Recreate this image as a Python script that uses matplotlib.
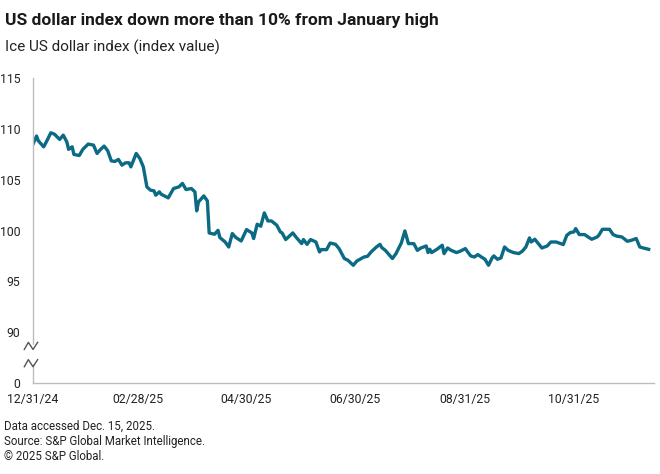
import matplotlib
matplotlib.use("Agg")
import matplotlib.pyplot as plt
import pandas as pd

plt.rcParams['font.family'] = ['Roboto', 'DejaVu Sans']

# days after 12/31/24 and index values
start_date = "2024-12-31"
day_offsets = [0, 2, 3, 6, 8, 10, 12, 15, 17, 19, 20, 22, 23, 26, 28, 31, 34, 36, 38, 40,
               42, 44, 46, 48, 50, 52, 54, 55, 58, 60, 62, 64, 66, 68, 69, 71, 72, 76, 79, 82,
               84, 86, 89, 91, 92, 93, 96, 98, 99, 102, 104, 105, 108, 110, 112, 114, 117, 120, 123, 124,
               126, 128, 130, 132, 134, 137, 139, 140, 142, 146, 148, 151, 152, 154, 156, 159, 161, 162, 165, 167,
               170, 172, 175, 177, 180, 182, 186, 188, 190, 193, 195, 196, 198, 202, 204, 207, 209, 211, 214, 216,
               218, 221, 222, 223, 224, 227, 230, 231, 233, 235, 238, 240, 243, 244, 246, 248, 250, 252, 254, 256,
               258, 259, 261, 263, 265, 267, 270, 273, 275, 277, 279, 280, 282, 284, 286, 289, 291, 294, 298, 300,
               302, 304, 305, 307, 310, 312, 314, 317, 318, 320, 324, 326, 328, 331, 334, 336, 339, 341, 343, 346]
index_values = [108.50, 109.29, 108.82, 108.23, 108.89, 109.61, 109.48, 108.96, 109.38, 108.72,
                107.98, 108.23, 107.48, 107.38, 107.98, 108.50, 108.40, 107.58, 107.98, 108.30,
                107.84, 106.85, 106.79, 106.99, 106.43, 106.66, 106.66, 106.26, 107.58, 107.09,
                106.26, 104.29, 103.97, 103.90, 103.47, 103.80, 103.57, 103.21, 104.13, 104.29,
                104.63, 104.03, 104.13, 103.80, 101.93, 102.81, 103.40, 102.91, 99.76, 99.63,
                100.02, 99.31, 98.87, 98.38, 99.70, 99.31, 98.97, 100.09, 99.76, 99.21,
                100.62, 100.42, 101.73, 100.94, 100.94, 100.52, 99.86, 99.76, 99.11, 99.76,
                99.31, 98.71, 99.11, 98.64, 99.11, 98.87, 97.89, 98.12, 98.12, 98.77,
                98.64, 98.22, 97.24, 97.07, 96.58, 97.00, 97.39, 97.46, 97.89, 98.38,
                98.64, 98.32, 98.05, 97.24, 97.73, 98.77, 99.96, 98.71, 98.71, 98.05,
                98.28, 98.48, 97.83, 98.15, 97.83, 98.15, 98.55, 97.73, 98.28, 98.05,
                97.83, 97.96, 98.22, 97.96, 97.50, 97.39, 97.63, 97.39, 97.17, 96.58,
                97.30, 97.50, 97.17, 97.30, 98.38, 98.05, 97.83, 97.73, 97.96, 98.38,
                99.27, 98.87, 99.14, 98.71, 98.28, 98.48, 98.87, 98.87, 98.62, 99.53,
                99.80, 99.86, 100.19, 99.60, 99.60, 99.36, 99.14, 99.36, 99.53, 100.12,
                100.12, 99.60, 99.45, 99.36, 98.94, 99.02, 99.21, 98.38, 98.28, 98.15]

x_tick_dates = ["2024-12-31", "2025-02-28", "2025-04-30", "2025-06-30", "2025-08-31", "2025-10-31"]
x_tick_labels = ["12/31/24", "02/28/25", "04/30/25", "06/30/25", "08/31/25", "10/31/25"]
y_tick_values = [85, 90, 95, 100, 105, 110, 115]
y_tick_labels = ["0", "90", "95", "100", "105", "110", "115"]

dates = pd.Timestamp(start_date) + pd.to_timedelta(day_offsets, unit="D")

fig = plt.figure(figsize=(6.6, 4.74), dpi=100)
ax = fig.add_axes([33 / 660, 1 - 383 / 474, 621 / 660, 305 / 474])

line_color = "#0b6a84"
ax.plot(dates, index_values, color=line_color, lw=2.4, solid_joinstyle="round")

ax.set_ylim(85, 115)
ax.set_yticks(y_tick_values)
ax.set_yticklabels(y_tick_labels)
ax.set_xlim(pd.Timestamp("2024-12-31"), pd.Timestamp("2025-12-15"))
ax.set_xticks(pd.to_datetime(x_tick_dates))
ax.set_xticklabels(x_tick_labels)

for s in ["top", "right"]:
    ax.spines[s].set_visible(False)
for s in ["left", "bottom"]:
    ax.spines[s].set_color("#bdbdbd")
    ax.spines[s].set_linewidth(1.0)
ax.tick_params(length=0, labelsize=8.8, colors="#222222")
ax.tick_params(axis="y", pad=9)
ax.tick_params(axis="x", pad=7)

# axis break marks on the left spine
tr = ax.get_yaxis_transform()
ax.fill_between([-0.012, 0.012], 87.0, 88.7, color="white", transform=tr, clip_on=False, zorder=3)
for y0 in [88.8, 87.1]:
    ax.plot([-0.014, -0.0075, 0.0, 0.0075], [y0 - 0.5, y0 + 0.2, y0 - 0.5, y0 + 0.2],
            color="#555555", lw=1.0, transform=tr, clip_on=False, zorder=4)

fig.text(5 / 660, 1 - 20 / 474, "US dollar index down more than 10% from January high",
         fontsize=12.5, fontweight="bold", color="#1a1a1a", va="center", ha="left")
fig.text(5 / 660, 1 - 47 / 474, "Ice US dollar index (index value)",
         fontsize=11, color="#222222", va="center", ha="left")
footer = ["Data accessed Dec. 15, 2025.", "Source: S&P Global Market Intelligence.", "\u00a9 2025 S&P Global."]
for i, txt in enumerate(footer):
    fig.text(4 / 660, 1 - (426 + 15.5 * i) / 474, txt, fontsize=8.3, color="#222222",
             va="center", ha="left")

fig.savefig("out.png", dpi=100)
